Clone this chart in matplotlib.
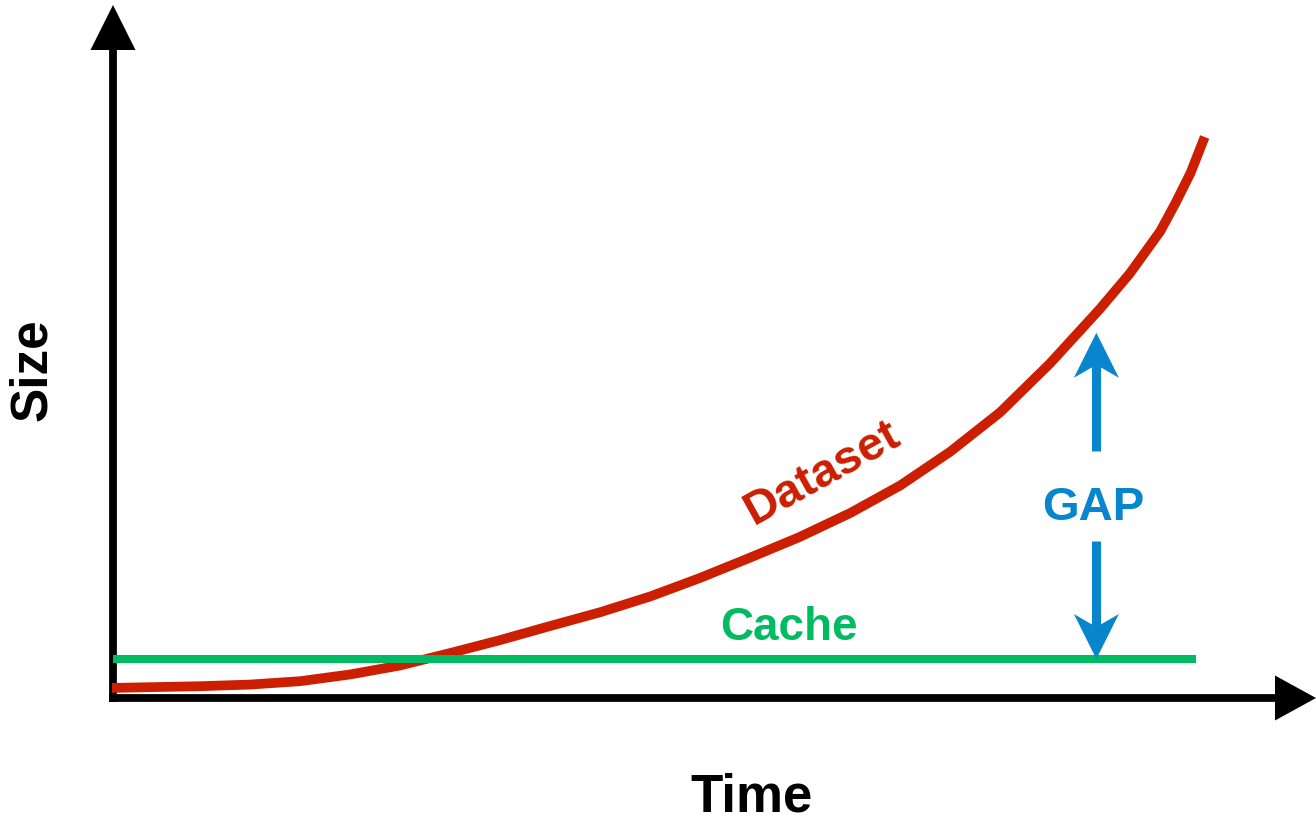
import matplotlib
matplotlib.use("Agg")
import matplotlib.pyplot as plt
from matplotlib.patches import Polygon

plt.rcParams['font.family'] = ['Liberation Sans', 'DejaVu Sans']

# ---- data ----
time_vals = [-0.01, 0.80, 1.27, 1.73, 2.19, 2.65, 3.11, 3.57, 4.03, 4.50,
             4.96, 5.42, 5.88, 6.34, 6.81, 7.27, 7.73, 8.19, 8.65, 9.11,
             9.39, 9.67, 9.81, 9.95, 10.08]
dataset_vals = [0.18, 0.21, 0.24, 0.30, 0.42, 0.58, 0.80, 1.03, 1.28, 1.53,
                1.81, 2.14, 2.50, 2.87, 3.30, 3.79, 4.39, 5.09, 5.96, 6.93,
                7.57, 8.32, 8.82, 9.36, 10.0]
cache_time = [0.0, 10.0]
cache_vals = [0.695, 0.695]
gap_time = 9.08
gap_top = 6.51
gap_label_size = 3.39
labels = {"x": "Time", "y": "Size", "dataset": "Dataset", "cache": "Cache", "gap": "GAP"}

RED = '#CC1E00'
GREEN = '#00BB62'
BLUE = '#0786CD'

W, H = 1316, 823
fig = plt.figure(figsize=(W / 100, H / 100), dpi=100)
ax = fig.add_axes([0, 0, 1, 1])
XMIN, XMAX = -1.0434, 11.108
YMIN, YMAX = -2.228, 12.442
ax.set_xlim(XMIN, XMAX)
ax.set_ylim(YMIN, YMAX)
ax.axis('off')

px = (XMAX - XMIN) / W   # data units per pixel in x
py = (YMAX - YMIN) / H   # data units per pixel in y


def head(xt, yt, direction, length, half, notch, color, z):
    """Arrow head polygon; sizes in pixels."""
    if direction == 'up':
        pts = [(xt, yt), (xt - half * px, yt - length * py), (xt, yt - notch * py),
               (xt + half * px, yt - length * py)]
    elif direction == 'down':
        pts = [(xt, yt), (xt - half * px, yt + length * py), (xt, yt + notch * py),
               (xt + half * px, yt + length * py)]
    else:
        pts = [(xt, yt), (xt - length * px, yt + half * py), (xt - notch * px, yt),
               (xt - length * px, yt - half * py)]
    ax.add_patch(Polygon(pts, closed=True, facecolor=color, edgecolor='none', zorder=z))


# axes
y_tip = YMAX - 5 * py
x_tip = XMAX
ax.plot([0, 0], [-4 * py, y_tip - 40 * py], color='black', lw=5.6,
        solid_capstyle='butt', zorder=1)
ax.plot([-4 * px, x_tip - 38 * px], [0, 0], color='black', lw=5.6,
        solid_capstyle='butt', zorder=1)
head(0, y_tip, 'up', 45, 22.5, 45, 'black', 1)
head(x_tip, 0, 'right', 41, 22.5, 41, 'black', 1)

# series
ax.plot(time_vals, dataset_vals, color=RED, lw=7.0, solid_capstyle='butt',
        solid_joinstyle='round', zorder=2)
ax.plot(cache_time, cache_vals, color=GREEN, lw=5.8, solid_capstyle='butt', zorder=3)

# gap arrows
gap_bottom = cache_vals[0]
ax.plot([gap_time, gap_time], [gap_label_size + 1.02, gap_top - 30 * py], color=BLUE,
        lw=6.5, solid_capstyle='butt', zorder=4)
ax.plot([gap_time, gap_time], [gap_label_size - 0.60, gap_bottom + 30 * py], color=BLUE,
        lw=6.5, solid_capstyle='butt', zorder=4)
head(gap_time, gap_top, 'up', 45, 22.5, 32, BLUE, 4)
head(gap_time, gap_bottom, 'down', 45, 22.5, 32, BLUE, 4)

# texts
ax.text(gap_time - 3 * px, gap_label_size, labels["gap"], color=BLUE, fontsize=34,
        fontweight='bold', ha='center', va='center', zorder=5)
ax.text(6.24, 1.24, labels["cache"], color=GREEN, fontsize=33,
        fontweight='bold', ha='center', va='center', zorder=5)
ax.text(6.55, 4.00, labels["dataset"], color=RED, fontsize=34,
        fontweight='bold', ha='center', va='center', rotation=29,
        rotation_mode='anchor', zorder=5)
ax.text(5.90, YMIN + 26 * py, labels["x"], color='black', fontsize=38,
        fontweight='bold', ha='center', va='center')
ax.text(XMIN + 33 * px, 5.85, labels["y"], color='black', fontsize=37,
        fontweight='bold', ha='center', va='center', rotation=90)

fig.savefig('out.png', dpi=100)
